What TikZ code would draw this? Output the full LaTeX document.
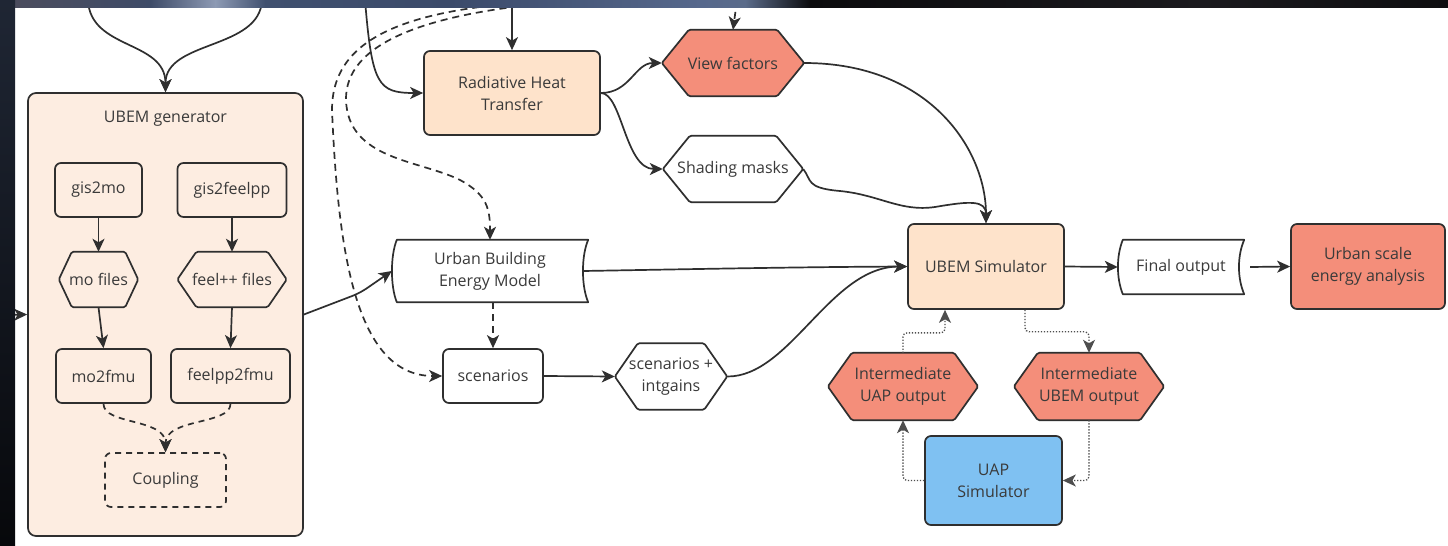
\documentclass[tikz,border=0pt]{standalone}
\usepackage{fontspec}
\setmainfont{Open Sans}
\usetikzlibrary{arrows.meta,calc}

\definecolor{ink}{HTML}{2F2F2F}
\definecolor{txt}{HTML}{3A3A3A}
\definecolor{peach}{HTML}{FEE3CB}
\definecolor{peachlight}{HTML}{FDEDE1}
\definecolor{salmon}{HTML}{F48E7A}
\definecolor{sky}{HTML}{7FC1F2}

\newcommand\labelfont{\fontsize{16}{22}\selectfont}

\pgfdeclarelayer{backdrop}
\pgfdeclarelayer{shapes}
\pgfsetlayers{backdrop,shapes,main}

\tikzset{
  outline/.style={draw=ink, line width=1.7pt, line join=round},
  ghost/.style={inner sep=0pt, align=center, text=txt, font=\labelfont},
  rbox/.style={ghost, outline, rounded corners=6pt},
  conn/.style={draw=ink, line width=1.7pt},
  arr/.style={conn, -{Stealth[length=13pt,width=12pt,inset=3.5pt]}},
  dasharr/.style={arr, dash pattern=on 7pt off 5pt},
  dotarr/.style={arr, line width=1.3pt, draw=ink!85, dash pattern=on 1.3pt off 1.7pt, rounded corners=4pt},
}

% hexagon: name, x, y, width, height, inset of the points, fill, text
\newcommand\hexnode[8]{%
  \node[ghost, minimum width=#4pt, minimum height=#5pt] (#1) at (#2,#3) {#8};
  \begin{pgfonlayer}{shapes}
    \filldraw[outline, fill=#7, rounded corners=1.5pt]
      (#1.west) -- ([xshift=#6pt]#1.north west) -- ([xshift=-#6pt]#1.north east)
      -- (#1.east) -- ([xshift=-#6pt]#1.south east) -- ([xshift=#6pt]#1.south west) -- cycle;
  \end{pgfonlayer}}

% stored-data shape: name, x, y, width, height, text
\newcommand\storenode[6]{%
  \node[ghost, minimum width=#4pt, minimum height=#5pt] (#1) at (#2,#3) {#6};
  \begin{pgfonlayer}{shapes}
    \filldraw[outline, fill=white]
      ([xshift=5pt]#1.north west) -- (#1.north east)
      .. controls ([xshift=-7pt,yshift=-16pt]#1.north east) and ([xshift=-7pt,yshift=16pt]#1.south east) .. (#1.south east)
      -- ([xshift=5pt]#1.south west)
      .. controls ([xshift=-1.5pt,yshift=16pt]#1.south west) and ([xshift=-1.5pt,yshift=-16pt]#1.north west) .. ([xshift=5pt]#1.north west)
      -- cycle;
  \end{pgfonlayer}}

\begin{document}
\begin{tikzpicture}[x=1pt, y=-1pt]
\useasboundingbox (0,0) rectangle (1448,546);

\begin{pgfonlayer}{backdrop}
  \fill[white] (0,0) rectangle (1448,546);
  \node[rbox, rounded corners=8pt, fill=peachlight, minimum width=275pt, minimum height=443pt] (gen) at (165.5,314.5) {};
\end{pgfonlayer}

% ---- UBEM generator contents
\node[ghost] (gentitle) at (165.5,119) {UBEM generator};
\node[rbox, fill=peachlight, minimum width=87pt, minimum height=54pt] (gis2mo) at (98.5,190) {gis2mo};
\node[rbox, fill=peachlight, minimum width=109pt, minimum height=54pt] (gis2feelpp) at (232,190) {gis2feelpp};
\hexnode{mofiles}{98.5}{279.5}{79}{55}{13}{peachlight}{mo files}
\hexnode{feelfiles}{232}{279.5}{109}{55}{19}{peachlight}{feel++ files}
\node[rbox, fill=peachlight, minimum width=95pt, minimum height=54pt] (mo2fmu) at (103.5,376) {mo2fmu};
\node[rbox, fill=peachlight, minimum width=119pt, minimum height=54pt] (feelpp2fmu) at (230.5,376) {feelpp2fmu};
\node[rbox, fill=peachlight, dash pattern=on 6pt off 5pt, minimum width=121pt, minimum height=54pt] (coupling) at (165.5,480) {Coupling};

% ---- main flow
\node[rbox, fill=peach, minimum width=176pt, minimum height=84pt] (rht) at (512,93) {Radiative Heat\\Transfer};
\hexnode{vf}{733}{63}{142}{66}{27}{salmon}{View factors}
\hexnode{sm}{733}{169}{140}{66}{27}{white}{Shading masks}
\storenode{model}{490}{271}{196}{62}{Urban Building\\Energy Model}
\node[rbox, fill=white, minimum width=100pt, minimum height=54pt] (scen) at (493,376) {scenarios};
\hexnode{scint}{671}{376.5}{112}{66}{23}{white}{scenarios +\\intgains}
\node[rbox, fill=peach, minimum width=156pt, minimum height=85pt] (sim) at (986,266.5) {UBEM Simulator};
\storenode{final}{1181}{267}{126}{54}{Final output}
\node[rbox, fill=salmon, minimum width=154pt, minimum height=85pt] (urban) at (1368,266.5) {Urban scale\\energy analysis};
\hexnode{iuap}{903}{386.5}{150}{67}{24}{salmon}{Intermediate\\UAP output}
\hexnode{iubem}{1089}{386.5}{150}{67}{24}{salmon}{Intermediate\\UBEM output}
\node[rbox, fill=sky, minimum width=137pt, minimum height=89pt] (uap) at (993.5,480.5) {UAP\\Simulator};

% ---- loose ends entering from outside the frame
\coordinate (inA) at (88,0);
\coordinate (inB) at (262,0);
\coordinate (inC) at (365,0);
\coordinate (inD) at (512,0);
\coordinate (inE) at (737,0);
\coordinate (inF) at (575,0);
\coordinate (inG) at (590,0);
\coordinate (inL) at (0,315);
\coordinate (bendM) at (360,293);

% ---- connectors
\draw[arr] (inA) .. controls (90,50) and (165.5,40) .. (gen.north);
\draw[arr] (inB) .. controls (260,50) and (165.5,40) .. (gen.north);
\draw[arr] (inL) -- (gen.west);

\draw[arr] (gis2mo.south) -- (mofiles.north);
\draw[arr] (gis2feelpp.south) -- (feelfiles.north);
\draw[arr] (mofiles.south) -- (mo2fmu.north);
\draw[arr] (feelfiles.south) -- (feelpp2fmu.north);
\draw[dasharr, dash pattern=on 6pt off 5pt] (mo2fmu.south) .. controls (103.5,425) and (165.5,418) .. (coupling.north);
\draw[dasharr, dash pattern=on 6pt off 5pt] (feelpp2fmu.south) .. controls (230.5,425) and (165.5,418) .. (coupling.north);

\draw[arr, rounded corners=8pt] (gen.east) -- (bendM) -- (model.west);

\draw[arr] (inC) .. controls (372,85) and (378,93) .. (rht.west);
\draw[arr] (inD) -- (rht.north);
\draw[dasharr] (inE) -- (vf.north);
\draw[dasharr] (inF) .. controls (400,5) and (332,40) .. (332,110)
  .. controls (338,250) and (355,376) .. (scen.west);
\draw[dasharr] (inG) .. controls (420,10) and (345,45) .. (346,100)
  .. controls (348,160) and (420,160) .. (460,180)
  .. controls (488,195) and (490,210) .. (model.north);

\draw[arr] (rht.east) .. controls (630,93) and (635,63) .. (vf.west);
\draw[arr] (rht.east) .. controls (622,93) and (625,169) .. (sm.west);
\draw[arr] (vf.east) .. controls (930,63) and (986,150) .. (sim.north);
\draw[arr] (sm.east) .. controls (812,180) and (805,188) .. (840,191)
  .. controls (880,195) and (900,212) .. (935,207)
  .. controls (970,201) and (986,200) .. (sim.north);

\draw[dasharr] (scen.north |- model.south) -- (scen.north);
\draw[arr] (scen.east) -- (scint.west);
\draw[arr] ($(model.east)+(-5,0)$) .. controls (700,269) and (800,267) .. (sim.west);
\draw[arr] (scint.east) .. controls (790,377) and (830,267) .. (sim.west);

\draw[arr] (sim.east) -- (final.west);
\draw[arr] ($(final.east)+(6,0)$) -- (urban.west);

\draw[dotarr] (iuap.north) |- ($(sim.south)+(-41,23)$) -- ($(sim.south)+(-41,0)$);
\draw[dotarr] ($(sim.south)+(39,0)$) |- ($(iubem.north)+(0,-21)$) -- (iubem.north);
\draw[dotarr] (iubem.south) |- (uap.east);
\draw[dotarr] (uap.west) -| (iuap.south);

% ---- dark surround at the top and left edges
\shade[left color=black!85!blue!40!gray, right color={rgb,255:red,62;green,75;blue,104}] (0,0) rectangle (150.5,7);
\shade[left color={rgb,255:red,62;green,75;blue,104}, right color={rgb,255:red,141;green,154;blue,180}] (150,0) rectangle (215.5,7);
\shade[left color={rgb,255:red,141;green,154;blue,180}, right color={rgb,255:red,64;green,80;blue,111}] (215,0) rectangle (265.5,7);
\shade[left color={rgb,255:red,64;green,80;blue,111}, right color={rgb,255:red,59;green,74;blue,106}] (265,0) rectangle (450.5,7);
\shade[left color={rgb,255:red,59;green,74;blue,106}, right color={rgb,255:red,86;green,104;blue,140}] (450,0) rectangle (700.5,7);
\shade[left color={rgb,255:red,86;green,104;blue,140}, right color={rgb,255:red,90;green,107;blue,138}] (700,0) rectangle (745.5,7);
\shade[left color={rgb,255:red,90;green,107;blue,138}, right color={rgb,255:red,11;green,11;blue,13}] (745,0) rectangle (810.5,7);
\shade[left color={rgb,255:red,11;green,11;blue,13}, right color={rgb,255:red,27;green,26;blue,30}] (810,0) rectangle (1200.5,7);
\shade[left color={rgb,255:red,27;green,26;blue,30}, right color={rgb,255:red,14;green,14;blue,16}] (1200,0) rectangle (1448,7);
\shade[top color={rgb,255:red,31;green,38;blue,52}, bottom color={rgb,255:red,7;green,8;blue,11}] (0,0) rectangle (15,546);
\end{tikzpicture}
\end{document}
